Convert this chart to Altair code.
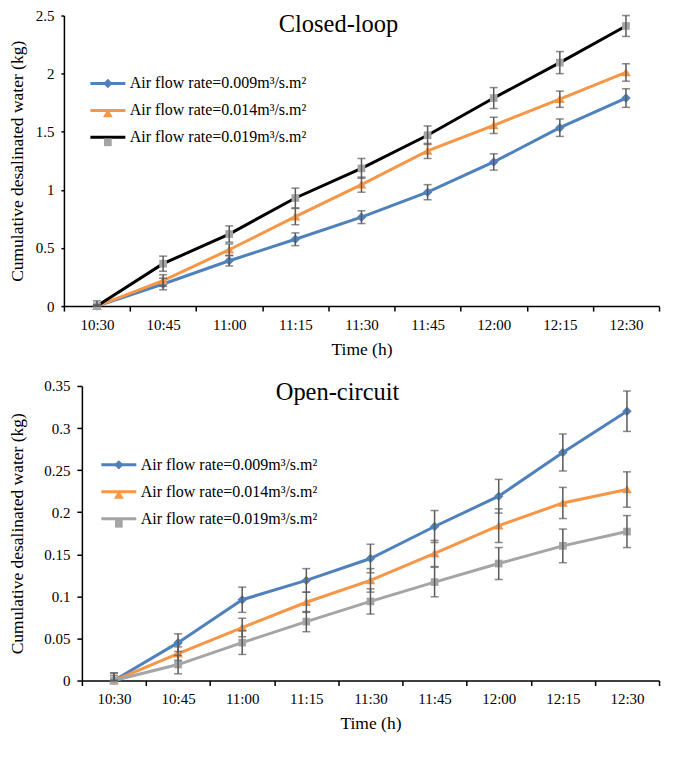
import altair as alt
import pandas as pd

# ---------------- data ----------------
times = ["10:30", "10:45", "11:00", "11:15", "11:30", "11:45", "12:00", "12:15", "12:30"]
series = [
    "Air flow rate=0.009m³/s.m²",
    "Air flow rate=0.014m³/s.m²",
    "Air flow rate=0.019m³/s.m²",
]
marker_keys = ["m1", "m2", "m3"]

# Closed-loop
closed_009 = [0.0, 0.19, 0.39, 0.575, 0.765, 0.98, 1.24, 1.535, 1.79]
closed_009_err = [0.01, 0.05, 0.045, 0.055, 0.055, 0.065, 0.07, 0.075, 0.08]
closed_014 = [0.0, 0.22, 0.485, 0.77, 1.045, 1.335, 1.555, 1.78, 2.01]
closed_014_err = [0.01, 0.05, 0.05, 0.07, 0.065, 0.065, 0.07, 0.07, 0.075]
closed_019 = [0.0, 0.365, 0.62, 0.93, 1.185, 1.47, 1.79, 2.095, 2.41]
closed_019_err = [0.045, 0.065, 0.07, 0.085, 0.085, 0.08, 0.09, 0.095, 0.09]

# Open-circuit
open_009 = [0.0, 0.045, 0.096, 0.119, 0.145, 0.183, 0.219, 0.271, 0.320]
open_009_err = [0.009, 0.0105, 0.015, 0.014, 0.017, 0.019, 0.02, 0.022, 0.024]
open_014 = [0.0, 0.032, 0.063, 0.093, 0.119, 0.151, 0.184, 0.211, 0.227]
open_014_err = [0.006, 0.008, 0.011, 0.012, 0.014, 0.0155, 0.02, 0.0185, 0.021]
open_019 = [0.0, 0.019, 0.045, 0.070, 0.094, 0.117, 0.139, 0.160, 0.177]
open_019_err = [0.009, 0.011, 0.014, 0.012, 0.015, 0.0175, 0.019, 0.02, 0.019]

closed_title = "Closed-loop"
open_title = "Open-circuit"
x_title = "Time (h)"
y_title = "Cumulative desalinated water (kg)"

# ---------------- styling ----------------
FONT = "Liberation Serif"
BLUE = "#4F81BD"
ORANGE = "#F79646"
GRAY = "#A5A5A5"
BLACK = "#000000"
ERR = "#595959"

DIAMOND = "M0,-0.27L0.27,0L0,0.27L-0.27,0Z"
TRIANGLE = "M0,-0.26L0.28,0.22L-0.28,0.22Z"
SQUARE = "M-0.22,-0.22H0.22V0.22H-0.22Z"
SYM = 1225


def make_df(vals_list, errs_list):
    rows = []
    for s, k, vals, errs in zip(series, marker_keys, vals_list, errs_list):
        for t, v, e in zip(times, vals, errs):
            rows.append({"time": t, "series": s, "mkey": k, "value": v,
                         "lo": max(v - e, 0.0), "hi": v + e})
    return pd.DataFrame(rows)


def panel(df, line_colors, marker_colors, ymax, ystep, title, tx, ty,
          lx, ly, row_pad, width, height, ytitle_pad, ytick, ext):
    xscale = dict(type="band", paddingInner=0, paddingOuter=0)
    if ext:
        xscale["range"] = [-ext, width]
    x_enc = alt.X(
        "time:N", sort=times, bandPosition=0.5,
        scale=alt.Scale(**xscale),
        axis=alt.Axis(
            title=x_title, labelAngle=0, tickBand="extent", tickSize=5,
            labelPadding=6, titlePadding=8, domainColor="black",
            tickColor="black", domainWidth=1.5, tickWidth=1.5,
            labelFont=FONT, labelFontSize=15, labelColor="black",
            titleFont=FONT, titleFontSize=17.5, titleFontWeight="normal",
            titleColor="black",
        ),
    )
    ticks = [round(i * ystep, 4) for i in range(int(round(ymax / ystep)) + 1)]
    y_axis = alt.Axis(
        title=y_title, values=ticks, format="~g", grid=False, offset=ext,
        tickSize=ytick, labelPadding=7, titlePadding=ytitle_pad,
        domainColor="black", tickColor="black", domainWidth=1.5, tickWidth=1.5,
        labelFont=FONT, labelFontSize=15, labelColor="black",
        titleFont=FONT, titleFontSize=17.5, titleFontWeight="normal",
        titleColor="black",
    )
    y_scale = alt.Scale(domain=[0, ymax], nice=False)

    common_leg = dict(
        orient="none", legendX=lx, legendY=ly, title=None,
        symbolSize=SYM, symbolStrokeWidth=3, labelFont=FONT,
        labelFontSize=16, labelColor="black", labelLimit=400, labelOffset=3,
        rowPadding=row_pad, padding=0, offset=0,
    )

    base = alt.Chart(df)
    lines = base.mark_line(strokeWidth=3).encode(
        x=x_enc,
        y=alt.Y("value:Q", scale=y_scale, axis=y_axis),
        stroke=alt.Stroke(
            "series:N",
            scale=alt.Scale(range=line_colors),
            legend=alt.Legend(symbolType="stroke", zindex=1, **common_leg),
        ),
    )
    leg2 = alt.Legend(symbolStrokeColor="transparent", labelOpacity=0,
                      zindex=2, **common_leg)
    points = base.mark_point(filled=True, size=SYM, opacity=1).encode(
        x=x_enc,
        y=alt.Y("value:Q", scale=y_scale),
        fill=alt.Fill("mkey:N", scale=alt.Scale(range=marker_colors),
                      legend=leg2),
        shape=alt.Shape("mkey:N",
                        scale=alt.Scale(range=[DIAMOND, TRIANGLE, SQUARE]),
                        legend=leg2),
    )
    err_rule = base.mark_rule(color=ERR, strokeWidth=1.5).encode(
        x=x_enc, y=alt.Y("lo:Q", scale=y_scale), y2="hi:Q")
    cap_lo = base.mark_tick(color=ERR, thickness=1.5, size=8).encode(
        x=x_enc, y=alt.Y("lo:Q", scale=y_scale))
    cap_hi = base.mark_tick(color=ERR, thickness=1.5, size=8).encode(
        x=x_enc, y=alt.Y("hi:Q", scale=y_scale))

    title_layer = alt.Chart(pd.DataFrame({"t": [title]})).mark_text(
        font=FONT, fontSize=24.5, color="black", align="center",
        baseline="alphabetic",
    ).encode(text="t:N", x=alt.value(tx), y=alt.value(ty))

    return alt.layer(lines, points, err_rule, cap_lo, cap_hi,
                     title_layer).properties(width=width, height=height)


closed_df = make_df([closed_009, closed_014, closed_019],
                    [closed_009_err, closed_014_err, closed_019_err])
open_df = make_df([open_009, open_014, open_019],
                  [open_009_err, open_014_err, open_019_err])

top = panel(closed_df, [BLUE, ORANGE, BLACK], [BLUE, ORANGE, GRAY],
            2.5, 0.5, closed_title, 257, 16.5, 7, 49, -6.5, 578, 291, 9, 3, 18)
bottom = panel(open_df, [BLUE, ORANGE, GRAY], [BLUE, ORANGE, GRAY],
               0.35, 0.05, open_title, 256, 14, 18, 60, 0, 578, 295, 17, 5, 0)

chart = alt.vconcat(top, bottom, spacing=21).resolve_scale(
    stroke="independent", fill="independent", shape="independent"
).resolve_legend(
    stroke="independent", fill="independent", shape="independent"
).properties(padding=0).configure(font=FONT).configure_view(stroke=None)

chart.save("out.html", embed_options={"renderer": "svg", "actions": False})
